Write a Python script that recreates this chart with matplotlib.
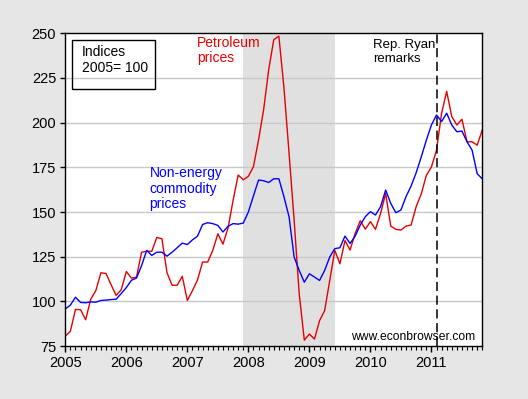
"""
Petroleum vs non-energy commodity price indices, 2005-2011 (econbrowser style).
"""

import numpy as np
import matplotlib
matplotlib.use("Agg")
import matplotlib.pyplot as plt
from matplotlib.ticker import MultipleLocator, FixedLocator

# monthly data, Jan 2005 .. Nov 2011, index 2005=100
start_year = 2005
petroleum = [
    80.5, 83.3, 95.5, 95.3, 89.7, 101.2, 106.0, 116.0, 115.6, 109.3, 103.3, 106.5,
    116.7, 113.0, 113.5, 127.5, 128.0, 128.0, 135.8, 135.0, 116.0, 109.0, 109.0, 114.0,
    100.5, 106.0, 112.0, 122.0, 122.0, 128.5, 137.8, 132.0, 141.0, 156.6, 170.7, 168.0,
    170.0, 175.4, 190.3, 207.2, 229.7, 246.5, 248.4, 219.4, 183.0, 145.4, 104.2, 78.3,
    81.7, 78.9, 89.2, 94.8, 111.6, 128.5, 121.0, 134.0, 128.7, 138.0, 145.1, 140.4,
    144.6, 140.3, 149.2, 160.4, 142.1, 140.3, 139.9, 142.1, 142.7, 153.0, 160.1, 170.5,
    175.2, 184.6, 205.3, 217.5, 203.4, 198.7, 201.9, 189.3, 189.3, 187.4, 195.9,
]
non_energy = [
    95.8, 97.9, 102.3, 99.4, 99.2, 99.7, 99.5, 100.5, 100.7, 101.0, 101.2, 104.4,
    107.7, 111.8, 113.0, 120.0, 128.5, 125.7, 127.5, 127.5, 125.3, 127.5, 130.0, 132.6,
    131.8, 134.4, 136.5, 143.0, 144.0, 143.5, 142.5, 138.8, 142.0, 143.5, 143.2, 143.8,
    150.0, 159.0, 167.9, 167.5, 166.5, 168.6, 168.6, 158.5, 147.3, 124.8, 117.3, 110.7,
    115.4, 113.6, 111.7, 117.3, 124.8, 129.5, 130.0, 136.5, 132.4, 136.5, 142.7, 147.4,
    150.2, 148.3, 153.0, 162.3, 154.8, 149.6, 151.1, 158.6, 164.5, 172.0, 180.8, 190.2,
    198.7, 204.3, 200.6, 205.3, 198.7, 194.9, 195.3, 189.3, 184.6, 171.4, 168.6,
]
year_ticks = [2005, 2006, 2007, 2008, 2009, 2010, 2011]
y_ticks = [75, 100, 125, 150, 175, 200, 225, 250]
recession = (2007 + 11 / 12, 2009 + 5 / 12)
ryan_date = 2011 + 1 / 12


def plot_chart():
    plt.rcParams["font.family"] = ["Liberation Sans", "DejaVu Sans"]
    plt.rcParams["font.size"] = 10

    x = start_year + np.arange(len(petroleum)) / 12

    fig = plt.figure(figsize=(5.28, 3.99), dpi=100)
    fig.patch.set_facecolor("#e6e6e6")
    ax = fig.add_axes([0.1237, 0.1328, 0.7897, 0.7837])
    ax.set_facecolor("white")

    # recession shading + grid
    ax.axvspan(*recession, color="#e0e0e0", lw=0, zorder=0)
    for v in y_ticks[1:-1]:
        ax.axhline(v, color="#c8c8c8", lw=1.0, zorder=1)

    ax.plot(x, petroleum, color="#e60000", lw=1.0, zorder=3)
    ax.plot(x, non_energy, color="#0000ff", lw=1.0, zorder=3)
    ax.axvline(ryan_date, color="black", lw=1.1, ls=(0, (6, 3)), zorder=4)

    ax.set_xlim(x[0], x[-1])
    ax.set_ylim(75, 250)
    ax.yaxis.set_major_locator(FixedLocator(y_ticks))
    ax.xaxis.set_major_locator(FixedLocator(year_ticks))
    ax.xaxis.set_minor_locator(MultipleLocator(1 / 12))
    ax.tick_params(axis="y", length=3.6, width=1, pad=3, labelsize=10.5)
    ax.tick_params(axis="x", which="major", length=4.5, width=1, pad=3, labelsize=10.5)
    ax.tick_params(axis="x", which="minor", length=2.9, width=0.8)
    for s in ax.spines.values():
        s.set_color("black")
        s.set_linewidth(1.0)
        s.set_zorder(5)

    # annotations
    ax.add_patch(plt.Rectangle((0.0168, 0.821), 0.199, 0.1566, transform=ax.transAxes,
                               fill=False, ec="black", lw=1.0, zorder=6))
    ax.text(0.0393, 0.962, "Indices\n2005= 100", transform=ax.transAxes, va="top",
            ha="left", fontsize=10, linespacing=1.2, zorder=6)
    ax.text(2007.16, 248.6, "Petroleum\nprices", color="#e60000", va="top", ha="left",
            fontsize=10, linespacing=1.15, zorder=6)
    ax.text(2006.38, 175.8, "Non-energy\ncommodity\nprices", color="#0000ff", va="top",
            ha="left", fontsize=10, linespacing=1.15, zorder=6)
    ax.text(0.7386, 0.982, "Rep. Ryan\nremarks", transform=ax.transAxes, va="top",
            ha="left", fontsize=9.5, linespacing=1.2, zorder=6)
    ax.text(0.9825, 0.02, "www.econbrowser.com", transform=ax.transAxes, va="baseline",
            ha="right", fontsize=8.7, zorder=6)

    fig.savefig("out.png", dpi=100, facecolor=fig.get_facecolor())


if __name__ == "__main__":
    plot_chart()
